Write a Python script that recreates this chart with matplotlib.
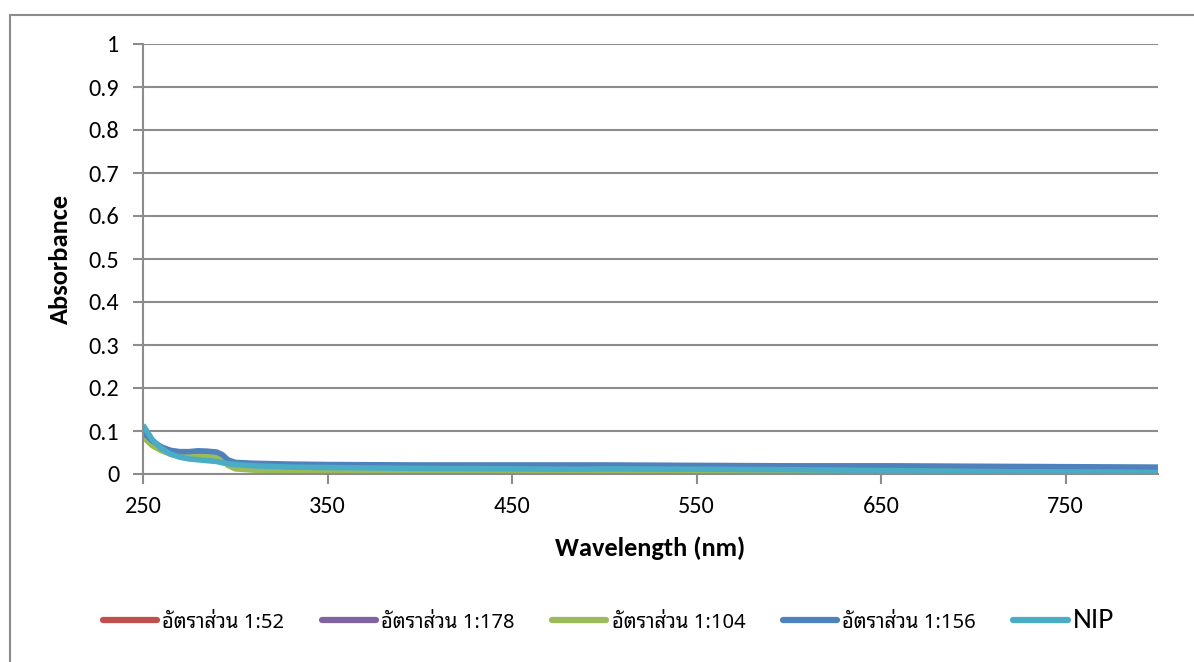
import numpy as np
import matplotlib
matplotlib.use("Agg")
import matplotlib.pyplot as plt
from matplotlib import font_manager
from matplotlib.patches import Rectangle

# wavelength sample points (nm)
wl = [250, 255, 260, 265, 270, 275, 280, 285, 290, 293, 296, 300, 310, 330, 350,
      400, 450, 485, 500, 550, 600, 655, 700, 750, 800]

# absorbance per ratio
abs_152 = [0.092, 0.072, 0.058, 0.049, 0.044, 0.043, 0.044, 0.043, 0.041, 0.036, 0.026, 0.019,
           0.015, 0.013, 0.012, 0.012, 0.012, 0.012, 0.013, 0.013, 0.012, 0.012, 0.011, 0.011, 0.011]
abs_1178 = [0.094, 0.073, 0.059, 0.050, 0.045, 0.044, 0.045, 0.044, 0.042, 0.037, 0.027, 0.020,
            0.016, 0.014, 0.013, 0.013, 0.013, 0.013, 0.014, 0.014, 0.013, 0.013, 0.012, 0.012, 0.012]
abs_1104 = [0.086, 0.066, 0.054, 0.046, 0.042, 0.040, 0.041, 0.041, 0.039, 0.033, 0.020, 0.012,
            0.009, 0.008, 0.007, 0.006, 0.006, 0.006, 0.006, 0.006, 0.006, 0.007, 0.008, 0.008, 0.009]
abs_1156 = [0.097, 0.077, 0.063, 0.055, 0.052, 0.052, 0.054, 0.053, 0.051, 0.045, 0.033, 0.027,
            0.025, 0.023, 0.022, 0.021, 0.021, 0.021, 0.021, 0.020, 0.019, 0.019, 0.018, 0.017, 0.016]
abs_nip = [0.114, 0.080, 0.059, 0.046, 0.039, 0.035, 0.033, 0.031, 0.029, 0.026, 0.024, 0.022,
           0.019, 0.016, 0.015, 0.013, 0.012, 0.011, 0.012, 0.011, 0.010, 0.008, 0.006, 0.004, 0.003]

series = [
    ("อัตราส่วน 1:52", abs_152, "#C0504D"),
    ("อัตราส่วน 1:178", abs_1178, "#8064A2"),
    ("อัตราส่วน 1:104", abs_1104, "#9BBB59"),
    ("อัตราส่วน 1:156", abs_1156, "#4F81BD"),
    ("NIP", abs_nip, "#4BACC6"),
]

names = {f.name for f in font_manager.fontManager.ttflist}
latin = next((n for n in ["Carlito", "Open Sans"] if n in names), "DejaVu Sans")
thai = next((n for n in ["Noto Sans Thai Looped", "Noto Sans Thai", "Sarabun", "Anuphan"] if n in names),
            "DejaVu Sans")
plt.rcParams["font.family"] = [latin, thai, "DejaVu Sans"]
big = latin == "Carlito"

fig = plt.figure(figsize=(11.94, 6.62), dpi=100)
fig.patches.append(Rectangle((10 / 1194, -0.1), 1.2, 1 - 15 / 662 + 0.1, transform=fig.transFigure,
                             fill=False, edgecolor="#8c8c8c", lw=1.5))
ax = fig.add_axes([143 / 1194, 1 - 474 / 662, (1158 - 143) / 1194, (474 - 44) / 662])

for name, vals, col in series:
    ax.plot(wl, vals, color=col, lw=4, label=name, solid_capstyle="butt")

ax.set_xlim(250, 800)
ax.set_ylim(0, 1)
ax.set_xticks([250, 350, 450, 550, 650, 750])
ax.set_yticks(np.arange(0, 1.01, 0.1))
ax.set_yticklabels(["0", "0.1", "0.2", "0.3", "0.4", "0.5", "0.6", "0.7", "0.8", "0.9", "1"])
ax.yaxis.grid(True, color="#8c8c8c", lw=1.5)
ax.set_axisbelow(True)
for s in ["top", "right"]:
    ax.spines[s].set_visible(False)
for s in ["left", "bottom"]:
    ax.spines[s].set_color("#8c8c8c")
    ax.spines[s].set_linewidth(1.5)
tick_fs = 17.5 if big else 15
ax.tick_params(axis="both", colors="#8c8c8c", length=7, width=1.5, labelsize=tick_fs, labelcolor="black")
ax.tick_params(axis="y", pad=10)
ax.tick_params(axis="x", pad=9)
lab_fs = 19 if big else 15.5
ax.set_xlabel("Wavelength (nm)", fontsize=lab_fs, fontweight="bold", labelpad=14)
ax.set_ylabel("Absorbance", fontsize=lab_fs, fontweight="bold", labelpad=12)

leg = fig.legend(loc="center left", bbox_to_anchor=(103 / 1194, 1 - 620 / 662), ncol=5, frameon=False,
                 fontsize=15, handlelength=2.6, handletextpad=0.25, columnspacing=1.8,
                 borderaxespad=0, borderpad=0)
for t in leg.get_texts()[:4]:
    t.set_fontfamily([thai, "DejaVu Sans"])
    t.set_fontsize(14.5)
leg.get_texts()[4].set_fontsize(21 if big else 18)
for h in leg.get_lines():
    h.set_solid_capstyle("round")
    h.set_linewidth(4.5)

fig.savefig("out.png", dpi=100)
